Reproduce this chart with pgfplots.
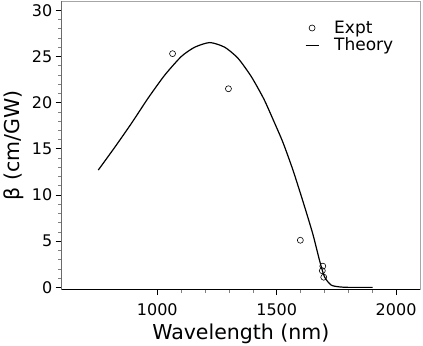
\documentclass[border=0pt]{standalone}
\usepackage{pgfplots}
\pgfplotsset{compat=1.18}
\usepackage{fontspec}
\setmainfont{DejaVu Sans}

\pgfplotsset{
  markleg/.style={legend image code/.code={\draw[##1] plot coordinates {(6.5pt,0pt)};}},
  lineleg/.style={legend image code/.code={\draw[##1] (0pt,0pt) -- (13pt,0pt);}},
}

\begin{document}
\begin{tikzpicture}
\begin{axis}[
scale only axis,
width=358pt,
height=288pt,
xmin=600, xmax=2100,
ymin=-0.2, ymax=31,
xtick={1000,1500,2000},
minor x tick num=4,
ytick={0,5,10,15,20,25,30},
minor y tick num=4,
tick align=outside,
xtick pos=bottom,
ytick pos=left,
major tick length=6pt,
minor tick length=3.5pt,
tick style={black, line width=0.6pt},
minor tick style={gray, line width=0.6pt},
axis line style={gray!70, line width=0.8pt},
/pgf/number format/assume math mode=true,
/pgf/number format/1000 sep={},
tick label style={font=\fontsize{16}{18}\selectfont},
xticklabel style={yshift=-5pt},
xlabel={Wavelength (nm)},
ylabel={β (cm/GW)},
label style={font=\fontsize{20.5}{23}\selectfont},
xlabel style={yshift=-1pt},
ylabel style={yshift=1pt},
legend style={draw=none, fill=none, font=\fontsize{17}{19}\selectfont,
  at={(rel axis cs:0.94,0.945)}, anchor=north east, row sep=-1pt,
  column sep=13pt},
legend cell align=left,
]
\addplot[only marks, mark=o, mark size=3pt, black, line width=0.6pt, markleg]
table[row sep=crcr]{
1064 25.3\\
1298 21.5\\
1599 5.1\\
1693 2.3\\
1691 1.8\\
1697 1.1\\
};
\addlegendentry{Expt}
\addplot[black, line width=1.2pt, mark=none, smooth, tension=0.4, lineleg]
table[row sep=crcr]{
753 12.7\\
823 15.2\\
893 17.8\\
962 20.5\\
1032 23.0\\
1101 25.0\\
1157 26.0\\
1220 26.5\\
1282 26.0\\
1338 24.8\\
1394 22.8\\
1446 20.4\\
1486 18.1\\
1526 15.7\\
1568 12.7\\
1610 9.3\\
1651 5.8\\
1679 2.95\\
1700 1.15\\
1728 0.25\\
1763 0.05\\
1800 0\\
1902 0\\
};
\addlegendentry{Theory}
\draw[black, line width=0.8pt] (rel axis cs:0,1) -- (rel axis cs:0,0) -- (rel axis cs:1,0);
\end{axis}
\pgfresetboundingbox
\path ([xshift=-61.7pt,yshift=-56.7pt]current axis.south west) rectangle ([xshift=3pt,yshift=1pt]current axis.north east);
\end{tikzpicture}
\end{document}
